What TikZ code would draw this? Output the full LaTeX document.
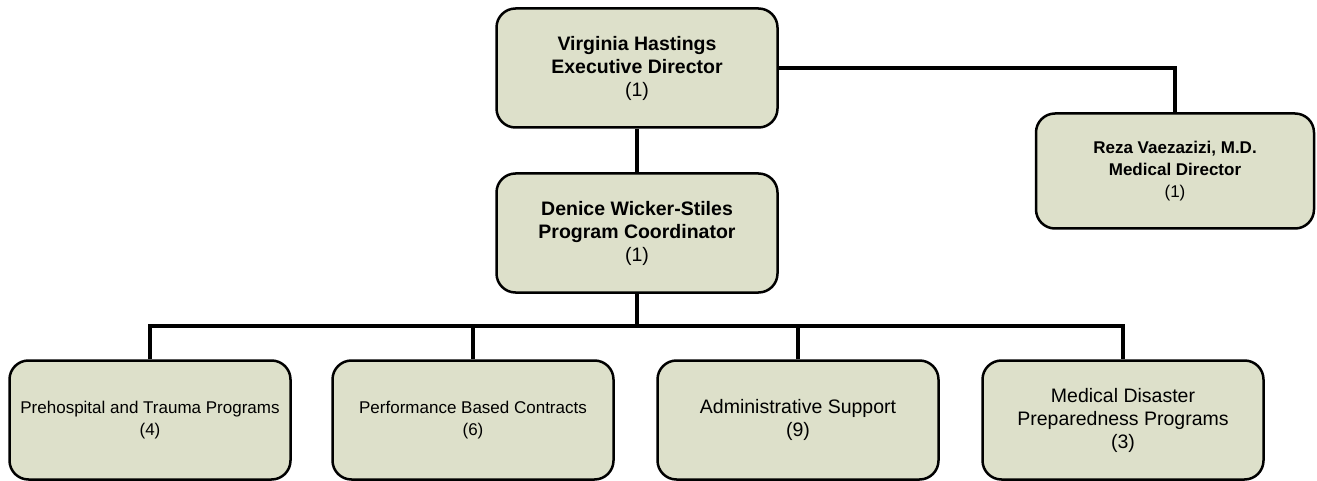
\documentclass[tikz,border=0pt]{standalone}
\usepackage{fontspec}
\setmainfont{Liberation Sans}
\usepackage{tikz}
\usetikzlibrary{positioning}
\definecolor{boxfill}{RGB}{221,224,202}
\tikzset{x=1pt, y=-1pt,
every box/.style={ % Sets the properties for each box
draw, line width=2.5pt,
rounded corners=19pt,
fill=boxfill,
minimum width=281pt, minimum height=119pt,
align=center},
head/.style={font=\fontsize{19.5}{23}\selectfont\bfseries},
small head/.style={font=\fontsize{17}{22}\selectfont\bfseries},
unit/.style={font=\fontsize{19.5}{23}\selectfont},
small unit/.style={font=\fontsize{17}{22}\selectfont},
link/.style={ % Sets the properties for each connector
draw, line width=4pt}}

\begin{document}
\begin{tikzpicture}
\useasboundingbox (0,0) rectangle (1317,481);
\node[every box, head] (exec) at (637,68) {Virginia Hastings\\Executive Director\\\mdseries(1)};
\node[every box, head] (coord) at (637,233) {Denice Wicker-Stiles\\Program Coordinator\\\mdseries(1)};
\node[every box, small head, minimum width=278pt, minimum height=115pt] (med) at (1175,171) {Reza Vaezazizi, M.D.\\Medical Director\\\mdseries\fontsize{17}{22}\selectfont(1)};
\node[every box, small unit] (pre) at (150,420) {Prehospital and Trauma Programs\\(4)};
\node[every box, small unit] (perf) at (473,420) {Performance Based Contracts\\(6)};
\node[every box, unit] (admin) at (798,420) {Administrative Support\\(9)};
\node[every box, unit] (dis) at (1123,420) {Medical Disaster\\Preparedness Programs\\(3)};
\coordinate (bus) at (637,326);
\draw[link] (exec) -- (coord);
\draw[link] (exec.east) -| (med.north);
\draw[link] (coord) -- (bus);
\draw[link] (pre.north) |- (bus) -| (dis.north);
\draw[link] (perf.north) -- (perf.north |- bus);
\draw[link] (admin.north) -- (admin.north |- bus);
\end{tikzpicture}
\end{document}
